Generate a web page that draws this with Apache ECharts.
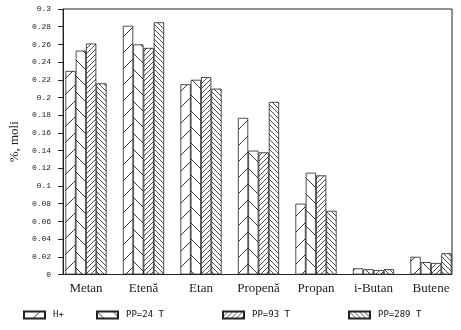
<!DOCTYPE html>
<html>
<head>
<meta charset="utf-8">
<script src="https://cdn.jsdelivr.net/npm/echarts@6/dist/echarts.min.js"></script>
<style>
  html, body { margin: 0; padding: 0; background: #fff; }
  #chart { width: 461px; height: 330px; }
</style>
</head>
<body>
<div id="chart"></div>
<script>
// Gas composition (mol fraction, %) by component and catalyst treatment
const categories = ['Metan', 'Etenă', 'Etan', 'Propenă', 'Propan', 'i-Butan', 'Butene'];
const seriesNames = ['H+', 'PP=24 T', 'PP=93 T', 'PP=289 T'];
const hPlus  = [0.230, 0.281, 0.215, 0.177, 0.080, 0.007, 0.020];
const pp24   = [0.253, 0.260, 0.220, 0.140, 0.115, 0.006, 0.014];
const pp93   = [0.261, 0.256, 0.223, 0.138, 0.112, 0.005, 0.013];
const pp289  = [0.216, 0.285, 0.210, 0.195, 0.072, 0.006, 0.024];
const yMin = 0, yMax = 0.3, yStep = 0.02;

// Hatch fill tiles: dir '/' or '\', step = spacing of lines in px
function hatch(step, dir, width) {
  const c = document.createElement('canvas');
  c.width = step; c.height = step;
  const g = c.getContext('2d');
  g.fillStyle = '#ffffff';
  g.fillRect(0, 0, step, step);
  g.strokeStyle = '#222';
  g.lineWidth = width;
  for (const o of [-step, 0, step]) {
    g.beginPath();
    if (dir === '/') { g.moveTo(o, step); g.lineTo(o + step, 0); }
    else { g.moveTo(o, 0); g.lineTo(o + step, step); }
    g.stroke();
  }
  return { image: c, repeat: 'repeat' };
}

const fills = [hatch(16, '/', 0.9), hatch(16, '\\', 0.9), hatch(5, '/', 0.8), hatch(5, '\\', 0.8)];
const values = [hPlus, pp24, pp93, pp289];
const legendX = [23, 96, 222, 348];

const chart = echarts.init(document.getElementById('chart'), null, { renderer: 'canvas' });
chart.setOption({
  animation: false,
  backgroundColor: '#fff',
  grid: [
    // framed plot area
    { left: 63, right: 9, top: 9, bottom: 55.5, show: true, borderColor: '#222', borderWidth: 1, backgroundColor: 'transparent' },
    // bar layout band
    { left: 57.25, right: 1.25, top: 9, bottom: 55.5 }
  ],
  xAxis: [
    { gridIndex: 0, type: 'value', show: false, min: 0, max: 1 },
    {
      gridIndex: 1, type: 'category', data: categories,
      axisLine: { show: false },
      axisTick: { show: true, inside: true, alignWithLabel: true, length: 4, lineStyle: { color: '#222', width: 1 } },
      axisLabel: { margin: 8, fontFamily: 'Liberation Serif', fontSize: 13, color: '#222' }
    }
  ],
  yAxis: [
    {
      gridIndex: 0, type: 'value', min: yMin, max: yMax, interval: yStep,
      name: '%, moli', nameLocation: 'middle', nameGap: 37,
      nameTextStyle: { fontFamily: 'Liberation Serif', fontSize: 13, color: '#222' },
      axisLine: { show: true, lineStyle: { color: '#222', width: 1 } },
      axisTick: { show: true, length: 5, lineStyle: { color: '#222' } },
      axisLabel: { margin: 12, fontFamily: 'Liberation Mono', fontSize: 8, color: '#222' },
      splitLine: { show: false }
    },
    { gridIndex: 1, type: 'value', min: yMin, max: yMax, show: false, splitLine: { show: false } }
  ],
  legend: seriesNames.map((n, i) => ({
    data: [{ name: n, icon: 'rect' }], left: legendX[i], top: 310.5, padding: 0,
    itemWidth: 21, itemHeight: 7, selectedMode: false,
    textStyle: { fontFamily: 'DejaVu Sans Mono', fontSize: 9, color: '#111', padding: [0, 0, 0, 3] }
  })),
  series: seriesNames.map((n, i) => ({
    name: n, type: 'bar', xAxisIndex: 1, yAxisIndex: 1,
    data: values[i], barWidth: 10.3, barGap: '0%', silent: true,
    itemStyle: { color: fills[i], borderColor: '#222', borderWidth: 0.8 }
  }))
});
</script>
</body>
</html>
